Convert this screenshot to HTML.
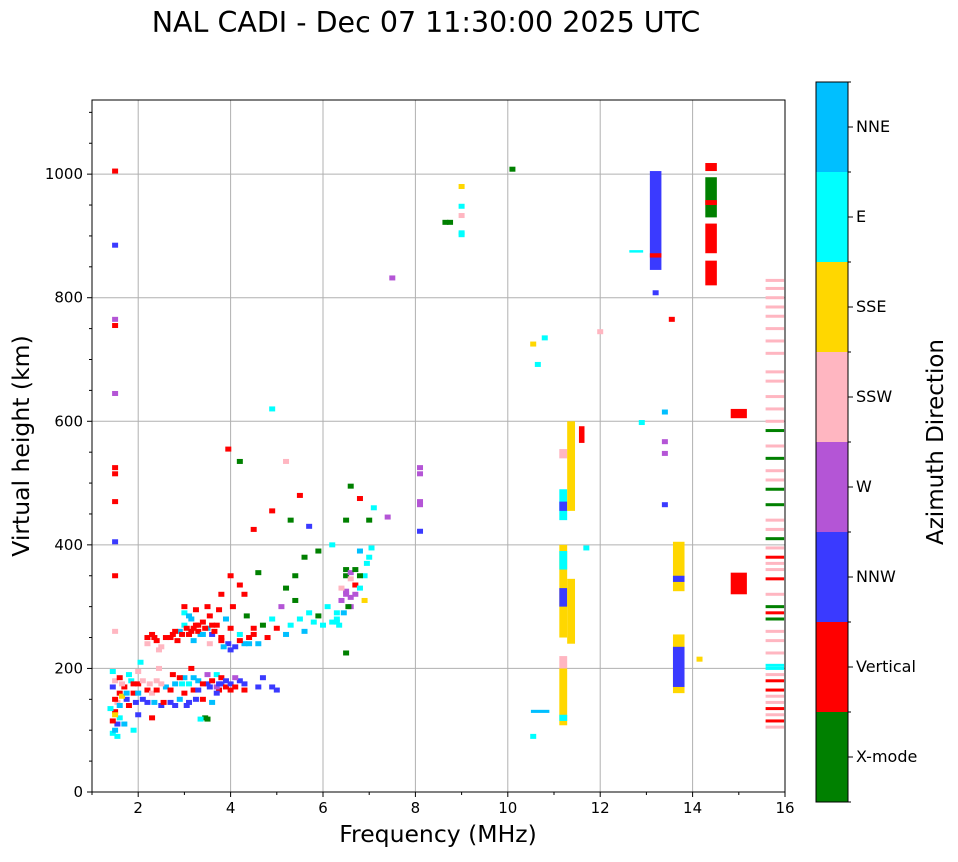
<!DOCTYPE html>
<html><head><meta charset="utf-8"><style>
body{margin:0;background:#fff;}
svg text{font-family:"DejaVu Sans","Liberation Sans",sans-serif;fill:#000;}
</style></head><body>
<svg id="chart" width="958" height="857" viewBox="0 0 958 857" xmlns="http://www.w3.org/2000/svg">
<text x="426" y="32" font-size="28.5" text-anchor="middle">NAL CADI - Dec 07 11:30:00 2025 UTC</text>
<g id="grid"></g><g id="marks"></g><g id="axes"></g><g id="cbar"></g>
</svg>
<script>
const dirNames=["X-mode","Vertical","NNW","W","SSW","SSE","E","NNE"];
const dirColors=["#008000","#ff0000","#3a3aff","#b455d6","#ffb6c1","#ffd700","#00ffff","#00bfff"];
const xTicks=[2,4,6,8,10,12,14,16];
const yTicks=[0,200,400,600,800,1000];
const scatterPoints=[[1.45,95,6],[1.5,100,7],[1.55,110,2],[1.45,115,1],[1.6,120,6],[1.5,130,1],[1.4,135,6],[1.55,145,4],[1.6,160,1],[1.45,170,2],[1.5,180,4],[1.6,185,1],[1.45,195,6],[1.7,170,1],[1.75,150,2],[1.8,140,1],[1.7,110,7],[1.85,180,6],[1.9,160,1],[1.95,145,2],[2.0,175,1],[2.0,195,4],[2.05,210,6],[2.1,150,2],[2.2,165,1],[2.25,175,4],[2.3,160,4],[2.35,145,7],[2.4,180,4],[2.45,200,4],[2.5,140,2],[2.55,145,1],[2.6,170,7],[2.7,145,2],[2.75,190,1],[2.8,140,2],[2.9,150,7],[2.95,175,6],[3.0,185,7],[3.05,140,2],[3.1,175,6],[3.15,200,1],[3.2,165,1],[3.3,180,7],[3.4,150,1],[3.45,120,0],[3.5,175,2],[3.6,145,7],[3.7,190,6],[3.75,165,1],[3.8,175,2],[3.9,170,1],[4.0,175,2],[4.1,170,1],[4.2,180,2],[4.3,165,1],[4.6,170,2],[4.7,185,2],[4.9,170,2],[5.0,165,2],[2.3,120,1],[2.0,125,2],[1.9,100,6],[3.5,118,0],[3.35,118,6],[1.5,260,4],
[1.5,150,1],[1.6,140,7],[1.65,175,4],[1.8,190,6],[1.9,175,1],[2.0,160,7],[2.1,180,4],[2.2,145,2],[2.4,165,1],[2.5,175,4],[2.7,165,1],[2.8,175,7],[2.9,185,1],[3.0,160,1],[3.1,145,2],[3.2,185,7],[3.3,165,2],[3.4,175,1],[3.5,190,3],[3.6,180,1],[3.7,170,3],[3.8,185,1],[3.9,180,2],[4.1,185,3],[4.3,175,2],[3.55,170,2],[3.7,160,2],[3.75,175,2],[4.0,165,1],[3.25,150,2],[1.55,90,6],[1.5,125,5],[1.65,155,5],[1.75,160,7],
[2.2,250,1],[2.3,255,1],[2.4,245,1],[2.5,235,4],[2.6,250,1],[2.75,255,1],[2.85,245,1],[2.9,260,7],[3.0,270,6],[3.0,290,6],[3.1,255,1],[3.15,280,7],[3.2,265,1],[3.25,295,1],[3.3,270,1],[3.35,255,7],[3.4,275,1],[3.5,265,7],[3.55,285,1],[3.6,255,2],[3.7,270,1],[3.75,295,1],[3.8,250,1],[3.9,280,7],[3.95,240,2],[4.0,265,1],[4.05,300,1],[4.1,235,2],[4.2,255,6],[4.3,240,7],[4.35,285,0],[4.4,250,1],[4.5,265,1],[4.6,240,7],[4.7,270,0],[4.8,250,1],[4.9,280,6],[5.0,265,1],[5.1,300,3],[5.2,255,7],[5.3,270,6],[5.4,310,0],[5.5,280,6],[5.6,260,7],[5.7,290,6],[5.8,275,6],[5.9,285,0],[6.0,270,6],[6.1,300,6],[6.2,275,6],[6.3,290,6],[6.4,310,3],[6.5,320,3],[6.6,300,3],[6.5,350,0],[6.6,345,4],[6.7,335,1],[6.8,330,6],[6.9,350,6],[6.95,370,6],[7.0,380,6],[7.05,395,6],[6.8,390,7],[6.9,310,5],[4.0,350,1],[4.2,335,1],[4.6,355,0],[5.2,330,0],[5.4,350,0],[5.6,380,0],[5.9,390,0],[6.2,400,6],[6.5,440,0],[6.6,495,0],[6.8,475,1],[7.0,440,0],[7.1,460,6],[7.4,445,3],[6.5,225,0],[4.5,425,1],[4.9,455,1],[5.5,480,1],[5.3,440,0],[4.9,620,6],[3.95,555,1],[4.2,535,0],[5.2,535,4],[5.7,430,2],[3.0,300,1],[3.5,300,1],[4.3,320,1],[3.8,320,1],[6.5,360,0],[6.6,355,3],[6.7,320,3],[6.3,275,6],[4.4,240,7],
[2.2,240,4],[2.35,250,1],[2.45,230,4],[2.7,250,1],[2.8,260,1],[2.95,255,1],[3.05,265,1],[3.15,260,1],[3.25,270,1],[3.3,260,1],[3.45,265,1],[3.6,270,1],[3.65,260,1],[3.4,255,7],[3.1,285,7],[3.2,245,7],[3.55,240,4],[3.8,245,1],[3.85,235,7],[4.0,230,2],[4.2,245,1],[4.5,255,1],[6.5,325,3],[6.6,315,3],[6.4,330,4],[6.55,300,0],[6.7,360,0],[6.8,350,0],[6.45,290,7],[6.3,280,6],[6.35,270,6],
[1.5,1005,1],[1.5,885,2],[1.5,765,3],[1.5,755,1],[1.5,645,3],[1.5,525,1],[1.5,515,1],[1.5,470,1],[1.5,405,2],[1.5,350,1],[7.5,832,3],[8.1,525,3],[8.1,515,3],[8.1,470,3],[8.1,465,3],[8.1,422,2],[9.0,980,5],[9.0,948,6],[9.0,933,4],[9.0,905,6],[9.0,902,6],[8.65,922,0],[8.75,922,0],[10.1,1008,0],[10.55,725,5],[10.65,692,6],[10.8,735,6],[10.55,90,6],[11.7,395,6],[12.0,745,4],[13.4,615,7],[13.4,567,3],[13.4,548,3],[13.4,465,2],[13.2,808,2],[13.55,765,1],[14.15,215,5],[12.9,598,6]];
const barFreq=[11.2,11.2,11.2,11.2,11.2,11.2,11.2,11.2,11.2,11.37,11.37,11.6,13.2,13.2,13.7,13.7,13.7,13.7,14.4,14.4,14.4,14.4,14.4,15.0,15.0,12.78,10.7];
const barLow=[108,200,115,250,300,360,440,455,540,240,455,565,845,865,160,170,325,340,820,872,930,950,1005,320,605,873,128];
const barHigh=[200,220,125,400,330,390,490,470,555,345,600,592,1005,872,255,235,405,350,860,920,995,958,1018,355,620,877,133];
const barDir=[5,4,6,5,2,6,6,2,4,5,5,1,2,1,5,2,5,2,1,1,0,1,1,1,1,6,7];
const dashHeights=[105,115,125,135,145,155,165,180,190,200,205,225,245,260,280,290,300,320,345,360,370,380,395,410,425,440,465,490,505,520,540,560,585,600,620,640,665,680,710,730,750,770,785,800,815,828];
const dashDir=[4,1,4,1,4,4,1,1,4,6,6,4,4,4,0,1,0,4,1,4,4,1,4,0,4,4,0,0,4,4,0,4,0,4,4,4,4,4,4,4,4,4,4,4,4,4];
const dashFreq=15.78;
const X0=92,X1=785,Y0=792,Y1=100;
const fx=f=>X0+(f-1)/15*(X1-X0);
const fy=h=>Y0-h/1120*(Y0-Y1);
const NS="http://www.w3.org/2000/svg";
function mk(tag,attrs,parent){const e=document.createElementNS(NS,tag);for(const k in attrs)e.setAttribute(k,attrs[k]);document.getElementById(parent).appendChild(e);return e;}
xTicks.forEach(t=>{if(t<16){const l=mk('line',{x1:fx(t),x2:fx(t),y1:Y1,y2:Y0,stroke:'#b0b0b0','stroke-width':1},'grid');}});
yTicks.forEach(t=>{if(t>0){const l=mk('line',{x1:X0,x2:X1,y1:fy(t),y2:fy(t),stroke:'#b0b0b0','stroke-width':1},'grid');}});
scatterPoints.forEach(p=>{const r=mk('rect',{x:fx(p[0])-3,y:fy(p[1])-2.5,width:6,height:5,fill:dirColors[p[2]]},'marks');

});
barFreq.forEach((f,i)=>{const w=(i>=23&&i<25)?0.35:(i==25?0.3:(i==26?0.4:(i==11?0.12:(i<11?0.17:0.25))));const r=mk('rect',{x:fx(f-w/2),y:fy(barHigh[i]),width:fx(f+w/2)-fx(f-w/2),height:fy(barLow[i])-fy(barHigh[i]),fill:dirColors[barDir[i]]},'marks');

});
dashHeights.forEach((h,i)=>{const r=mk('rect',{x:fx(dashFreq-0.2),y:fy(h)-1.5,width:fx(dashFreq+0.2)-fx(dashFreq-0.2),height:3,fill:dirColors[dashDir[i]]},'marks');

});
const fr=mk('rect',{x:X0,y:Y1,width:X1-X0,height:Y0-Y1,fill:'none',stroke:'#000','stroke-width':1},'axes');

for(let f=1;f<=16;f++){const major=f%2==0;mk('line',{x1:fx(f),x2:fx(f),y1:Y0,y2:Y0+(major?5:3),stroke:'#000'},'axes');}
for(let h=0;h<=1100;h+=50){const major=h%200==0;mk('line',{x1:X0,x2:X0-(major?5:3),y1:fy(h),y2:fy(h),stroke:'#000'},'axes');}
xTicks.forEach(t=>{const e=mk('text',{x:fx(t),y:Y0+21,'font-size':15,'text-anchor':'middle'},'axes');e.textContent=t;

});
yTicks.forEach(t=>{const e=mk('text',{x:X0-9,y:fy(t)+5,'font-size':15,'text-anchor':'end'},'axes');e.textContent=t;

});
let e=mk('text',{x:438,y:842,'font-size':23.5,'text-anchor':'middle'},'axes');e.textContent='Frequency (MHz)';


e=mk('text',{x:0,y:0,'font-size':23.5,'text-anchor':'middle',transform:'translate(29,446) rotate(-90)'},'axes');e.textContent='Virtual height (km)';


const CB0=802,CB1=82,bh=(CB0-CB1)/8;
dirNames.forEach((n,i)=>{const r=mk('rect',{x:816,y:CB0-(i+1)*bh,width:32,height:bh,fill:dirColors[i]},'cbar');


mk('line',{x1:848,x2:853,y1:CB0-(i+0.5)*bh,y2:CB0-(i+0.5)*bh,stroke:'#000'},'cbar');
mk('line',{x1:848,x2:851,y1:CB0-i*bh,y2:CB0-i*bh,stroke:'#000'},'cbar');
const t=mk('text',{x:856,y:CB0-(i+0.5)*bh+5,'font-size':16},'cbar');t.textContent=n;

});
mk('line',{x1:848,x2:851,y1:CB1,y2:CB1,stroke:'#000'},'cbar');
const cf=mk('rect',{x:816,y:CB1,width:32,height:CB0-CB1,fill:'none',stroke:'#000'},'cbar');

e=mk('text',{x:0,y:0,'font-size':23,'text-anchor':'middle',transform:'translate(943,442) rotate(-90)'},'cbar');e.textContent='Azimuth Direction';


</script>
</body></html>
